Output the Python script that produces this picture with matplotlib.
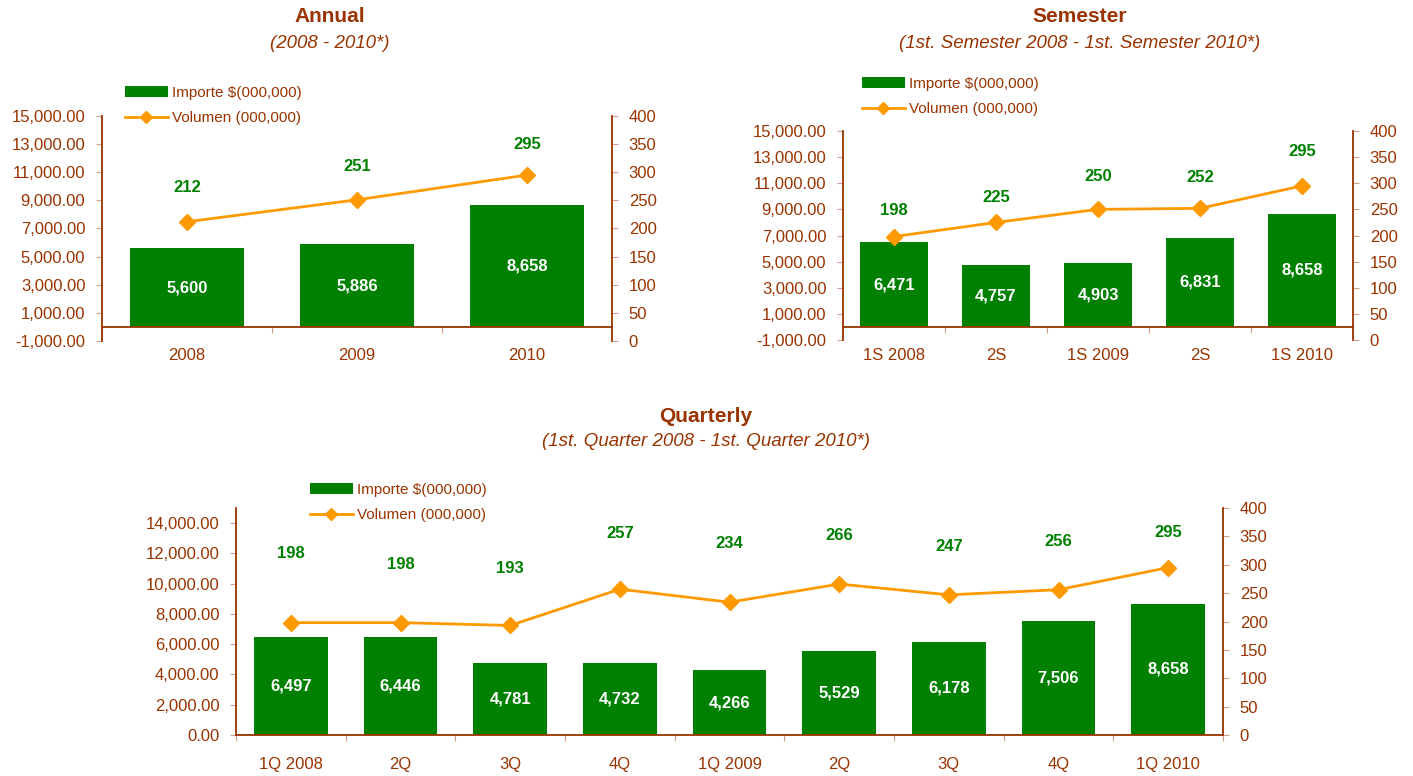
import numpy as np
import matplotlib
matplotlib.use('Agg')
from matplotlib import pyplot as plt
from matplotlib.ticker import FuncFormatter

# data
annual_cats = ['2008', '2009', '2010']
annual_importe = [5600, 5886, 8658]
annual_volumen = [212, 251, 295]

semester_cats = ['1S 2008', '2S', '1S 2009', '2S', '1S 2010']
semester_importe = [6471, 4757, 4903, 6831, 8658]
semester_volumen = [198, 225, 250, 252, 295]

quarter_cats = ['1Q 2008', '2Q', '3Q', '4Q', '1Q 2009', '2Q', '3Q', '4Q', '1Q 2010']
quarter_importe = [6497, 6446, 4781, 4732, 4266, 5529, 6178, 7506, 8658]
quarter_volumen = [198, 198, 193, 257, 234, 266, 247, 256, 295]

# how far (pt) each volume label sits above its point
annual_lab_off = [25, 24, 22]
semester_lab_off = [19, 18, 24, 22, 25]
quarter_lab_off = [50, 42, 41, 40, 42, 35, 35, 35, 25]

BROWN = '#993300'
TICK = '#d2a088'
GREEN = '#008000'
ORANGE = '#ff9900'

plt.rcParams['font.family'] = ['Liberation Sans', 'DejaVu Sans']

W, H = 1413, 776
fig = plt.figure(figsize=(W / 100, H / 100), dpi=100)


def px_rect(x0, y0, x1, y1):
    return [x0 / W, 1 - y1 / H, (x1 - x0) / W, (y1 - y0) / H]


def draw_chart(rect, cats, importe, volumen, ylim, yticks, lab_off, leg_xy):
    ax = fig.add_axes(rect)
    x = np.arange(len(cats))
    bars = ax.bar(x, importe, width=0.67, color=GREEN, zorder=2,
                  label='Importe $(000,000)')
    for b, v in zip(bars, importe):
        ax.text(b.get_x() + b.get_width() / 2, v / 2, f'{v:,}', color='white',
                fontsize=12, fontweight='bold', ha='center', va='center', zorder=3)
    ax.set_xlim(-0.5, len(cats) - 0.5)
    ax.set_ylim(*ylim)
    ax.set_yticks(yticks)
    ax.yaxis.set_major_formatter(FuncFormatter(lambda v, p: f'{v:,.2f}'))
    ax.spines['top'].set_visible(False)
    ax.spines['right'].set_visible(False)
    ax.spines['bottom'].set_position(('data', 0))
    for s in ('left', 'bottom'):
        ax.spines[s].set_color(BROWN)
        ax.spines[s].set_linewidth(1.3)
    ax.set_xticks(np.arange(len(cats) + 1) - 0.5)
    ax.set_xticklabels([])
    ax.set_xticks(x, minor=True)
    ax.set_xticklabels(cats, minor=True)
    ax.tick_params(axis='x', which='major', length=4, color=TICK, direction='out')
    ax.tick_params(axis='x', which='minor', length=0, pad=15.5, labelsize=12,
                   labelcolor=BROWN)
    ax.tick_params(axis='y', length=4, color=TICK, labelsize=12, labelcolor=BROWN,
                   pad=8)

    ax2 = ax.twinx()
    line, = ax2.plot(x, volumen, color=ORANGE, lw=2, marker='D', ms=8,
                     label='Volumen (000,000)', zorder=4)
    for xi, v, off in zip(x, volumen, lab_off):
        ax2.annotate(str(v), (xi, v), xytext=(0, off), textcoords='offset points',
                     ha='center', va='center', color=GREEN, fontsize=12,
                     fontweight='bold')
    ax2.set_ylim(0, 400)
    ax2.set_yticks(range(0, 401, 50))
    for s in ('top', 'left', 'bottom'):
        ax2.spines[s].set_visible(False)
    ax2.spines['right'].set_color(BROWN)
    ax2.spines['right'].set_linewidth(1.3)
    ax2.tick_params(axis='y', length=4, color=TICK, labelsize=12, labelcolor=BROWN,
                    pad=8)

    fig.legend(handles=[bars, line], loc='upper left',
               bbox_to_anchor=(leg_xy[0] / W, 1 - leg_xy[1] / H),
               frameon=False, fontsize=11, labelcolor=BROWN, handlelength=2.8,
               handletextpad=0.3, labelspacing=0.75, borderpad=0, borderaxespad=0,
               markerscale=0.8)
    return ax


def titles(xc, y1, y2, title, sub):
    fig.text(xc / W, 1 - y1 / H, title, ha='center', va='center', fontsize=15,
             fontweight='bold', color=BROWN)
    fig.text(xc / W, 1 - y2 / H, sub, ha='center', va='center', fontsize=13.5,
             style='italic', color=BROWN)


big_ticks = list(range(-1000, 15001, 2000))

draw_chart(px_rect(102, 116, 612, 341), annual_cats, annual_importe, annual_volumen,
           (-1000, 15000), big_ticks, annual_lab_off, (125, 86))
titles(330, 17, 44, 'Annual', '(2008 - 2010*)')

draw_chart(px_rect(843, 131, 1353, 340), semester_cats, semester_importe,
           semester_volumen, (-1000, 15000), big_ticks, semester_lab_off, (862, 77))
titles(1080, 17, 44, 'Semester', '(1st. Semester 2008 - 1st. Semester 2010*)')

draw_chart(px_rect(236, 508, 1223, 735), quarter_cats, quarter_importe,
           quarter_volumen, (0, 15000), list(range(0, 14001, 2000)), quarter_lab_off,
           (310, 483))
titles(706, 417, 442, 'Quarterly', '(1st. Quarter 2008 - 1st. Quarter 2010*)')

fig.savefig('out.png', dpi=100)
